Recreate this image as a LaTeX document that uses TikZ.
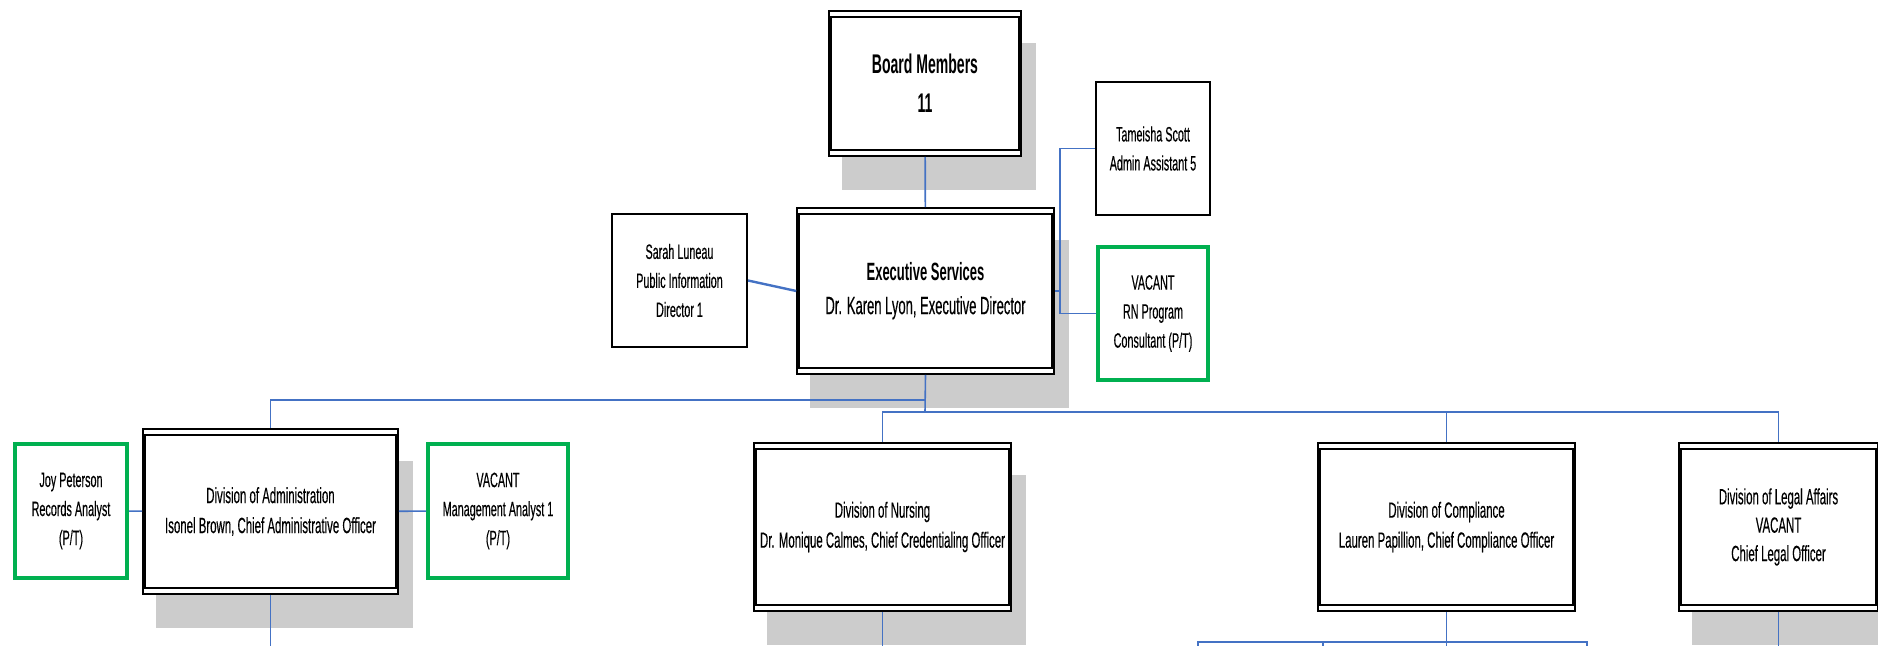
\documentclass[tikz,border=0pt]{standalone}
\usepackage{fontspec}
\setmainfont{Liberation Sans}[FakeStretch=0.52, UprightFeatures={FakeBold=0.3}]
\usetikzlibrary{backgrounds}
\definecolor{linkblue}{RGB}{68,114,196}
\definecolor{vacgreen}{RGB}{0,176,80}
\definecolor{shadowgray}{RGB}{204,204,204}

\begin{document}
\begin{tikzpicture}[x=0.5pt, y=-0.5pt,
    office/.style={draw=black, line width=0.8pt, fill=white, align=center, inner sep=0pt,
        minimum width=128.5pt, minimum height=84pt, font=\fontsize{11pt}{15pt}\selectfont},
    staff/.style={draw=black, line width=1pt, fill=white, align=center, inner sep=0pt,
        minimum width=57pt, minimum height=66.5pt, font=\fontsize{10.4pt}{14.5pt}\selectfont},
    vacant/.style={staff, draw=vacgreen, line width=2pt},
    link/.style={draw=linkblue, line width=0.8pt}]
    \useasboundingbox (0,0) rectangle (1878,646);
    \coordinate (bot) at (0,646);

    % executive level
    \node[office, minimum width=96pt, minimum height=72.5pt,
        font=\fontsize{13.5pt}{19.5pt}\selectfont\bfseries] (board) at (925,83.5) {Board Members\\11};
    \node[office, minimum height=83pt, font=\fontsize{12.5pt}{16.7pt}\selectfont]
        (exec) at (925.5,291) {{\bfseries Executive Services}\\Dr. Karen Lyon, Executive Director};
    \node[staff, minimum width=67.5pt] (sarah) at (679.5,280.5) {Sarah Luneau\\Public Information\\Director 1};
    \node[staff] (tam) at (1153,148.5) {Tameisha Scott\\Admin Assistant 5};
    \node[vacant, minimum width=55pt] (rn) at (1153,313.5) {VACANT\\RN Program\\Consultant (P/T)};

    % divisions
    \node[office, minimum width=127.5pt, minimum height=82.5pt] (admin) at (270.5,511.5)
        {Division of Administration\\Isonel Brown, Chief Administrative Officer};
    \node[vacant, minimum width=56pt, minimum height=67pt] (joy) at (71,511) {Joy Peterson\\Records Analyst\\(P/T)};
    \node[vacant, minimum width=70pt, minimum height=67pt] (mgmt) at (498,511) {VACANT\\Management Analyst 1\\(P/T)};
    \node[office] (nursing) at (882.5,527) {Division of Nursing\\Dr. Monique Calmes, Chief Credentialing Officer};
    \node[office] (compl) at (1446.5,527) {Division of Compliance\\Lauren Papillion, Chief Compliance Officer};
    \node[office, minimum width=99.5pt, font=\fontsize{11pt}{14.2pt}\selectfont] (legal) at (1778.5,527)
        {Division of Legal Affairs\\VACANT\\Chief Legal Officer};

    % double frames and shadows
    \foreach \n in {board,exec,admin,nursing,compl,legal}
        \draw[line width=1pt] ([shift={(1.5pt,-3.5pt)}]\n.north west) rectangle ([shift={(-1.5pt,3.5pt)}]\n.south east);
    \begin{pgfonlayer}{background}
        \foreach \n in {board,exec,admin,nursing,legal}
            \fill[shadowgray] ([shift={(7pt,-16.5pt)}]\n.north west) rectangle ([shift={(7pt,-16.5pt)}]\n.south east);
    \end{pgfonlayer}

    % connectors
    \coordinate (ej) at (1060,291);
    \coordinate (b1) at (925,400);
    \coordinate (b2) at (925,412);
    \draw[link] (board) -- (exec);
    \draw[link, line width=1.2pt] (sarah.east) -- (exec.west);
    \draw[link] (exec.east) -- (ej);
    \draw[link] (tam.west) -| (ej) |- (rn.west);
    \draw[link] (exec.south) -- (b2);
    \draw[link] (b1) -| (admin.north);
    \draw[link] (nursing.north) |- (b2) -| (legal.north);
    \draw[link] (compl.north) -- (compl.north |- b2);
    \draw[link] (joy) -- (admin);
    \draw[link] (admin) -- (mgmt);
    \foreach \n in {admin,nursing,compl,legal}
        \draw[link] (\n.south) -- (\n.south |- bot);
    \coordinate (cl) at (1198,642);
    \coordinate (cm) at (1323,642);
    \coordinate (cr) at (1587,642);
    \draw[link] (cl |- bot) -- (cl) -- (cr) -- (cr |- bot);
    \draw[link] (cm) -- (cm |- bot);
\end{tikzpicture}
\end{document}
